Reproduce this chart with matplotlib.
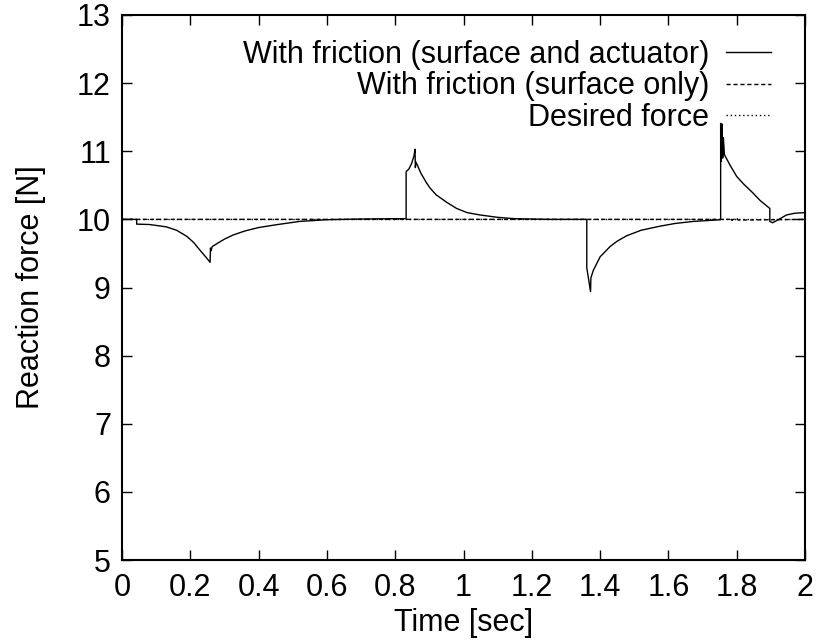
import matplotlib
matplotlib.use("Agg")
import matplotlib.pyplot as plt

# ---- data ----
t_both = [0.0, 0.043, 0.043, 0.08, 0.13, 0.16, 0.19, 0.21, 0.228, 0.245, 0.258, 0.259, 0.261, 0.264,
          0.28, 0.30, 0.325, 0.36, 0.40, 0.45, 0.52, 0.60, 0.70, 0.80, 0.832, 0.832, 0.84, 0.848,
          0.855, 0.858, 0.859, 0.861, 0.875, 0.89, 0.902, 0.92, 0.951, 0.98, 1.01, 1.048, 1.10,
          1.15, 1.25, 1.361, 1.361, 1.372, 1.373, 1.38, 1.40, 1.429, 1.45, 1.478, 1.52, 1.575,
          1.62, 1.673, 1.753, 1.753, 1.755, 1.757, 1.759, 1.761, 1.764, 1.78, 1.80, 1.82, 1.845,
          1.868, 1.897, 1.897, 1.905, 1.92, 1.946, 1.97, 2.0]
f_both = [10.0, 10.0, 9.93, 9.925, 9.89, 9.84, 9.75, 9.66, 9.55, 9.45, 9.37, 9.58, 9.54, 9.60,
          9.65, 9.71, 9.77, 9.83, 9.88, 9.92, 9.97, 9.995, 10.005, 10.01, 10.01, 10.70, 10.74, 10.82,
          10.93, 11.03, 10.76, 10.84, 10.68, 10.55, 10.46, 10.36, 10.25, 10.16, 10.10, 10.065, 10.03,
          10.01, 10.0, 10.0, 9.29, 8.94, 9.14, 9.25, 9.45, 9.60, 9.68, 9.76, 9.84, 9.90,
          9.94, 9.97, 9.995, 11.41, 10.85, 11.40, 10.90, 11.20, 10.95, 10.80, 10.63, 10.52, 10.40,
          10.28, 10.16, 9.97, 9.95, 9.99, 10.065, 10.09, 10.10]

t_surface = [0.0, 1.78, 1.783, 1.786, 1.79, 1.798, 1.801, 1.804, 2.0]
f_surface = [10.0, 10.0, 10.02, 9.985, 10.0, 10.0, 10.015, 9.99, 10.0]

t_desired = [0.0, 2.0]
f_desired = [10.0, 10.0]

x_ticks = [0, 0.2, 0.4, 0.6, 0.8, 1, 1.2, 1.4, 1.6, 1.8, 2]
x_labels = ["0", "0.2", "0.4", "0.6", "0.8", "1", "1.2", "1.4", "1.6", "1.8", "2"]
y_ticks = [5, 6, 7, 8, 9, 10, 11, 12, 13]

names = ["With friction (surface and actuator)", "With friction (surface only)", "Desired force"]

plt.rcParams["font.family"] = ["Liberation Sans", "DejaVu Sans"]
FS = 22

fig = plt.figure(figsize=(8.18, 6.43), dpi=100)
ax = fig.add_axes([122 / 818, (643 - 560) / 643, (805 - 122) / 818, (560 - 15) / 643])

ax.plot(t_both, f_both, color="black", lw=1.0, label=names[0])
ax.plot(t_surface, f_surface, color="black", lw=1.0, dashes=(3, 2), label=names[1])
ax.plot(t_desired, f_desired, color="black", lw=1.0, dashes=(1, 2), label=names[2])

ax.set_xlim(0, 2)
ax.set_ylim(5, 13)
ax.set_xticks(x_ticks)
ax.set_xticklabels(x_labels)
ax.set_yticks(y_ticks)
ax.tick_params(direction="in", length=7, width=1, top=True, right=True, labelsize=FS)
ax.tick_params(axis="x", pad=9)
ax.tick_params(axis="y", pad=8)
for s in ax.spines.values():
    s.set_linewidth(1.5)

ax.set_xlabel("Time [sec]", fontsize=FS, labelpad=4)
ax.set_ylabel("Reaction force [N]", fontsize=FS, labelpad=22)

leg = ax.legend(loc="upper right", bbox_to_anchor=(0.968, 0.977), frameon=False, markerfirst=False,
                fontsize=FS, handlelength=1.47, handletextpad=0.56, labelspacing=0.05,
                borderaxespad=0)
for t in leg.get_texts():
    t.set_ha("right")

fig.savefig("out.png", dpi=100)
